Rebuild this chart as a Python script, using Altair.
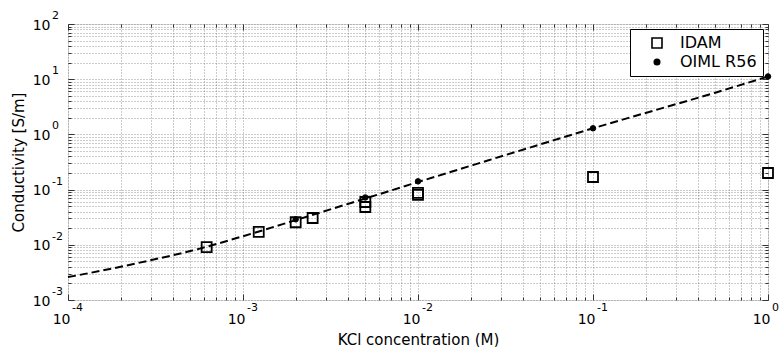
import altair as alt
import pandas as pd

# ---- data ----
line_conc = [1e-4, 2e-4, 3e-4, 5e-4, 1e-3, 2e-3, 5e-3, 1e-2, 2e-2, 5e-2, 0.1, 0.2, 0.5, 1.0]
line_cond = [0.0026, 0.0040, 0.0053, 0.0077, 0.0143, 0.028, 0.069, 0.137, 0.27, 0.66, 1.29, 2.45, 5.7, 11.2]

idam_conc = [6.2e-4, 1.23e-3, 2e-3, 2.5e-3, 5e-3, 5e-3, 1e-2, 1e-2, 0.1, 1.0]
idam_cond = [0.0091, 0.0172, 0.0256, 0.0306, 0.0596, 0.0484, 0.087, 0.080, 0.169, 0.20]

oiml_conc = [2e-3, 5e-3, 1e-2, 0.1, 1.0]
oiml_cond = [0.029, 0.072, 0.141, 1.29, 11.2]

series_names = ["IDAM", "OIML R56"]

x_major = [1e-4, 1e-3, 1e-2, 1e-1, 1.0]
x_exp = ["-4", "-3", "-2", "-1", "0"]
y_major = [1e-3, 1e-2, 1e-1, 1.0, 1e1, 1e2]
y_exp = ["-3", "-2", "-1", "0", "1", "2"]

x_ticks = sorted(set(x_major + [float(f"{k}e{e}") for e in range(-4, 0) for k in range(2, 10)]))
y_ticks = sorted(set(y_major + [float(f"{k}e{e}") for e in range(-3, 2) for k in range(2, 10)]))

FONT = "DejaVu Sans"
xs = alt.Scale(type="log", domain=[1e-4, 1.0], nice=False)
ys = alt.Scale(type="log", domain=[1e-3, 1e2], nice=False)

is_major = "abs(log(datum.value)/LN10 - round(log(datum.value)/LN10)) < 1e-6"
grid_kw = dict(grid=True, gridColor="#555555", gridDash=[1, 2], gridWidth=1, gridOpacity=0.6,
               ticks=False, domain=False, labelOverlap=False, labelFlush=False, labelBound=False,
               labelFont=FONT, labelFontSize=14, labelColor="black",
               labelExpr=f"{is_major} ? '10' : ''", titleFont=FONT, titleFontSize=15,
               titleFontWeight="normal", titleColor="black")

x_main = alt.Axis(orient="bottom", values=x_ticks, labelAlign="right", labelOffset=2,
                  labelBaseline="top", labelPadding=12, title="KCl concentration (M)",
                  titleX=350, titleY=44, titleBaseline="alphabetic", **grid_kw)
y_main = alt.Axis(orient="left", values=y_ticks, labelAlign="right", labelBaseline="middle",
                  labelPadding=18, labelOffset=1, title="Conductivity [S/m]",
                  titleX=-50, titleY=138, titleAngle=-90, titleAlign="center",
                  titleBaseline="middle", **grid_kw)

tick_dash = {"condition": {"test": is_major, "value": [6, 0]}, "value": [0, 3, 3, 10]}


def tick_axis(orient, values):
    return alt.Axis(orient=orient, values=values, offset=-6, tickSize=6, tickColor="#333333",
                    tickWidth=1, tickDash=tick_dash, labels=False, domain=False, grid=False,
                    title=None)


line_df = pd.DataFrame({"conc": line_conc, "cond": line_cond})
idam_df = pd.DataFrame({"conc": idam_conc, "cond": idam_cond, "series": "IDAM"})
oiml_df = pd.DataFrame({"conc": oiml_conc, "cond": oiml_cond, "series": "OIML R56"})

legend = alt.Legend(title=None, orient="top-right", offset=5, padding=6, strokeColor="black",
                    fillColor="white", labelFont=FONT, labelFontSize=16, labelColor="black",
                    symbolOffset=13, labelOffset=15, rowPadding=2,
                    symbolStrokeColor="black", symbolStrokeWidth=1.6)
shape_enc = alt.Shape("series:N", scale=alt.Scale(domain=series_names, range=["square", "circle"]),
                      legend=legend)
fill_enc = alt.Fill("series:N", scale=alt.Scale(domain=series_names, range=["transparent", "black"]),
                    legend=legend)
stroke_enc = alt.Stroke("series:N", scale=alt.Scale(domain=series_names, range=["black", "black"]),
                        legend=legend)
size_enc = alt.Size("series:N", scale=alt.Scale(domain=series_names, range=[100, 30]),
                    legend=legend)

line = alt.Chart(line_df).mark_line(color="black", strokeWidth=2, strokeDash=[8, 4],
                                    interpolate="monotone").encode(
    x=alt.X("conc:Q", scale=xs, axis=x_main),
    y=alt.Y("cond:Q", scale=ys, axis=y_main),
)

idam = alt.Chart(idam_df).mark_point(filled=True, strokeWidth=1.8, opacity=1).encode(
    x=alt.X("conc:Q", scale=xs, axis=tick_axis("bottom", x_ticks)),
    y=alt.Y("cond:Q", scale=ys, axis=tick_axis("left", y_ticks)),
    shape=shape_enc, fill=fill_enc, size=size_enc, stroke=stroke_enc,
)

oiml = alt.Chart(oiml_df).mark_point(filled=True, strokeWidth=1, opacity=1).encode(
    x=alt.X("conc:Q", scale=xs, axis=tick_axis("top", x_ticks)),
    y=alt.Y("cond:Q", scale=ys, axis=tick_axis("right", y_ticks)),
    shape=shape_enc, fill=fill_enc, size=size_enc, stroke=stroke_enc,
)

xexp_df = pd.DataFrame({"v": x_major, "t": x_exp})
yexp_df = pd.DataFrame({"v": y_major, "t": y_exp})

xexp = alt.Chart(xexp_df).mark_text(align="left", baseline="bottom", dx=4, dy=13, font=FONT,
                                    fontSize=11, color="black").encode(
    x=alt.X("v:Q", scale=xs, axis=None),
    y=alt.YDatum(1e-3, axis=None),
    text="t:N",
)
yexp = alt.Chart(yexp_df).mark_text(align="left", baseline="middle", dx=-16, dy=-8, font=FONT,
                                    fontSize=11, color="black").encode(
    x=alt.XDatum(1e-4, axis=None),
    y=alt.Y("v:Q", scale=ys, axis=None),
    text="t:N",
)

chart = alt.layer(line, idam, oiml, xexp, yexp).resolve_axis(
    x="independent", y="independent"
).properties(
    width=700, height=276,
    autosize=alt.AutoSizeParams(type="none"),
    padding={"left": 68, "top": 24, "right": 11, "bottom": 47},
).configure_view(stroke="#7a7a7a", strokeWidth=2).configure(background="white")

chart.save("out.html", embed_options={"renderer": "svg", "actions": False})
